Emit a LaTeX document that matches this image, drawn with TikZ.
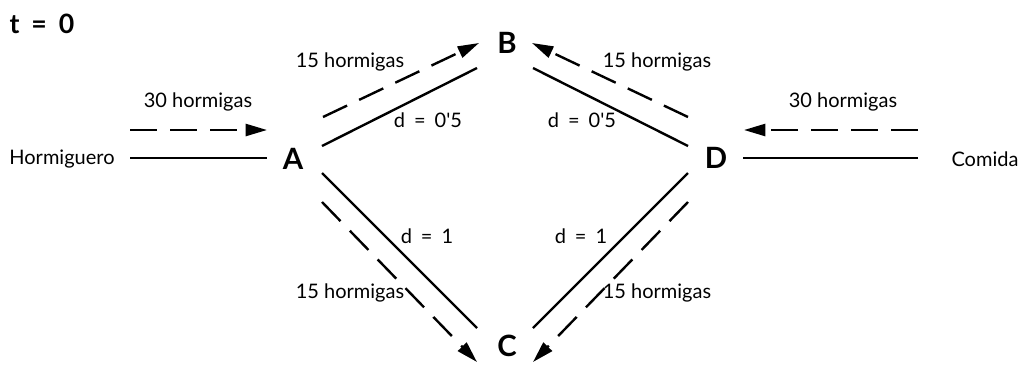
\documentclass[tikz,border=0pt]{standalone}
\usepackage{fontspec}
\setmainfont{Lato}
\usetikzlibrary{arrows.meta}

\tikzset{
  road/.style={line width=1.8pt},
  flow/.style={line width=1.8pt, dash pattern=on 20pt off 10pt,
    -{Triangle[length=16pt,width=9pt]}},
  lbl/.style={font=\fontsize{15}{17}\selectfont, inner sep=0pt},
  town/.style={font=\fontsize{22}{24}\selectfont\bfseries, inner sep=0pt}
}
\newcommand{\eqsp}{\hspace{0.45em}=\hspace{0.45em}}

\begin{document}
\begin{tikzpicture}[x=0.75pt,y=-0.75pt]
  \useasboundingbox (0,0) rectangle (1026,365);
  % title
  \node[font=\fontsize{20}{22}\selectfont\bfseries, inner sep=0pt] (title) at (42,24) {t\eqsp0};
  % places
  \node[lbl] (nest) at (62,159) {Hormiguero};
  \node[lbl] (food) at (985,159) {Comida};
  \node[town] (A) at (293,159) {A};
  \node[town] (B) at (507,43) {B};
  \node[town] (C) at (507,346) {C};
  \node[town] (D) at (716,158) {D};
  % line ends
  \coordinate (n1) at (130,158);  \coordinate (n2) at (267,158);
  \coordinate (n3) at (130,130);  \coordinate (n4) at (267,130);
  \coordinate (f1) at (918,158);  \coordinate (f2) at (743,158);
  \coordinate (f3) at (918,130);  \coordinate (f4) at (744,130);
  \coordinate (ab1) at (322,146); \coordinate (ab2) at (477,68);
  \coordinate (ab3) at (323,117); \coordinate (ab4) at (479,43);
  \coordinate (db1) at (688,146); \coordinate (db2) at (533,68);
  \coordinate (db3) at (688,117); \coordinate (db4) at (532,43);
  \coordinate (ac1) at (322,173); \coordinate (ac2) at (477,328);
  \coordinate (ac3) at (322,202); \coordinate (ac4) at (477,362);
  \coordinate (dc1) at (688,173); \coordinate (dc2) at (533,328);
  \coordinate (dc3) at (688,202); \coordinate (dc4) at (533,362);
  % roads
  \draw[road] (n1) -- (n2);
  \draw[road] (f1) -- (f2);
  \draw[road] (ab1) -- (ab2);
  \draw[road] (db1) -- (db2);
  \draw[road] (ac1) -- (ac2);
  \draw[road] (dc1) -- (dc2);
  % ants
  \draw[flow] (n3) -- (n4);
  \draw[flow] (f3) -- (f4);
  \draw[flow] (ab3) -- (ab4);
  \draw[flow] (db3) -- (db4);
  \draw[flow] (ac3) -- (ac4);
  \draw[flow] (dc3) -- (dc4);
  % labels
  \node[lbl] (l1) at (198,102) {30 hormigas};
  \node[lbl] (l2) at (843,102) {30 hormigas};
  \node[lbl] (l3) at (350,62) {15 hormigas};
  \node[lbl] (l4) at (657,62) {15 hormigas};
  \node[lbl] (l5) at (350,293) {15 hormigas};
  \node[lbl] (l6) at (657,293) {15 hormigas};
  \node[lbl] (d1) at (428,120) {d\eqsp0\textquotesingle5};
  \node[lbl] (d2) at (582,120) {d\eqsp0\textquotesingle5};
  \node[lbl] (d3) at (427,236) {d\eqsp1};
  \node[lbl] (d4) at (581,236) {d\eqsp1};
\end{tikzpicture}
\end{document}
